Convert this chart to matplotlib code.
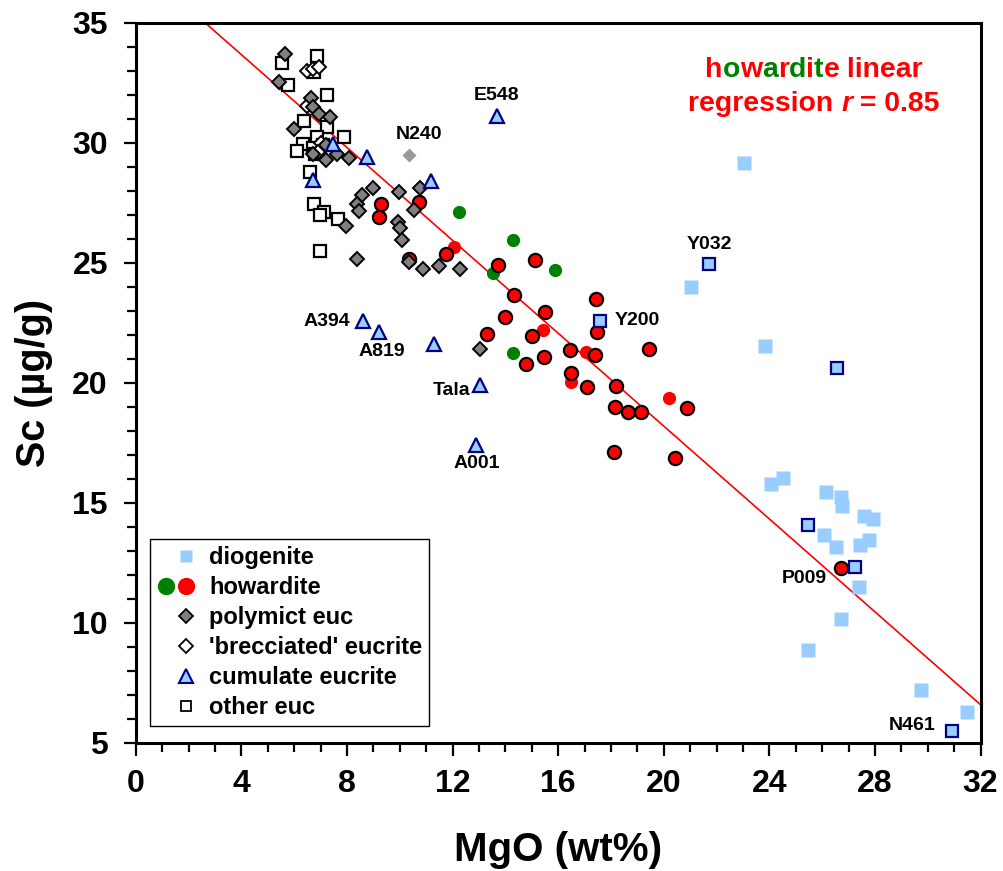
import matplotlib
matplotlib.use('Agg')
import matplotlib.pyplot as plt
from matplotlib.lines import Line2D
from matplotlib.legend_handler import HandlerBase
from matplotlib.offsetbox import TextArea, HPacker, VPacker, AnnotationBbox
from matplotlib.ticker import MultipleLocator

plt.rcParams['font.family'] = ['Liberation Sans', 'DejaVu Sans']
plt.rcParams['font.weight'] = 'bold'

# diogenites (plain squares) and the named / outlined ones
dio_mgo = [23.03, 21.04, 23.83, 24.05, 24.5, 26.16, 26.7, 26.77, 26.07, 26.52,
           27.6, 27.91, 27.45, 27.76, 27.38, 26.73, 25.45, 29.73, 31.48]
dio_sc = [29.15, 23.98, 21.53, 15.77, 16.02, 15.45, 15.25, 14.86, 13.68, 13.18,
          14.44, 14.31, 13.24, 13.45, 11.49, 10.16, 8.86, 7.2, 6.29]
dio2_mgo = [21.73, 17.57, 26.56, 25.45, 27.24, 30.91]
dio2_sc = [24.94, 22.58, 20.6, 14.06, 12.35, 5.48]

# howardites
how_mgo = [9.29, 9.22, 10.72, 10.34, 11.75, 13.72, 15.12, 14.34, 17.45, 15.51,
           14.0, 15.01, 13.3, 17.47, 16.46, 17.41, 19.43, 15.48, 14.79, 16.5,
           17.08, 18.18, 20.88, 18.14, 18.66, 19.13, 18.13, 20.41, 26.7]
how_sc = [27.44, 26.89, 27.55, 25.14, 25.37, 24.9, 25.11, 23.64, 23.5, 22.96,
          22.74, 21.95, 22.03, 22.13, 21.36, 21.15, 21.42, 21.09, 20.77, 20.42,
          19.83, 19.86, 18.95, 19.0, 18.77, 18.8, 17.1, 16.86, 12.27]
howr_mgo = [12.05, 15.43, 17.06, 16.5, 20.2]
howr_sc = [25.67, 22.2, 21.29, 20.02, 19.38]
howg_mgo = [12.23, 14.29, 15.9, 13.53, 14.29]
howg_sc = [27.13, 25.95, 24.68, 24.56, 21.25]

# eucrites
poly_mgo = [5.67, 5.44, 6.63, 6.7, 6.95, 7.37, 6.0, 7.21, 7.64, 8.06, 7.21, 6.73,
            8.98, 8.58, 8.38, 8.46, 9.96, 10.75, 10.55, 7.97, 9.93, 10.02, 10.08,
            8.38, 10.34, 10.9, 11.47, 12.29, 13.05]
poly_sc = [33.7, 32.52, 31.88, 31.47, 31.2, 31.06, 30.56, 29.9, 29.53, 29.35, 29.28,
           29.53, 28.1, 27.82, 27.47, 27.15, 27.93, 28.13, 27.22, 26.53, 26.71,
           26.43, 25.97, 25.14, 25.04, 24.73, 24.88, 24.73, 21.39]
brec_mgo = [6.5, 6.73, 6.96, 6.5, 7.0, 6.9]
brec_sc = [33.0, 33.06, 33.14, 31.53, 30.0, 29.6]
cum_mgo = [7.49, 8.76, 11.18, 6.73, 13.68, 8.59, 9.22, 11.31, 13.03, 12.9]
cum_sc = [29.95, 29.39, 28.4, 28.47, 31.11, 22.57, 22.1, 21.6, 19.89, 17.42]
oth_mgo = [6.88, 5.55, 6.75, 5.76, 7.23, 6.39, 7.24, 7.9, 6.86, 6.35, 6.1, 6.73,
           7.11, 6.8, 6.61, 6.76, 7.14, 6.99, 7.68, 6.99]
oth_sc = [33.63, 33.33, 32.95, 32.4, 32.0, 30.92, 30.64, 30.22, 30.25, 29.95, 29.67,
          29.77, 29.9, 29.55, 28.79, 27.45, 27.13, 26.99, 26.81, 25.49]
n240_mgo, n240_sc = 10.37, 29.5

# howardite regression
fit_slope = -0.967
fit_icept = 37.54

# named samples: (name, MgO, Sc, dx pt, dy pt, ha)
names = [('E548', 13.68, 31.11, 0, 15, 'center'),
         ('N240', 10.37, 29.5, 6.5, 14.5, 'center'),
         ('Y032', 21.73, 24.94, 0, 14.5, 'center'),
         ('Y200', 17.57, 22.58, 11, 0, 'left'),
         ('A394', 8.59, 22.57, -9, 0, 'right'),
         ('A819', 9.22, 22.1, 2, -13.5, 'center'),
         ('Tala', 13.03, 19.89, -7, -3.6, 'right'),
         ('A001', 12.9, 17.42, 0, -13.5, 'center'),
         ('P009', 27.24, 12.35, -20, -8.6, 'right'),
         ('N461', 30.91, 5.48, -11.5, 4.3, 'right')]

lblue = '#99CCFF'
navy = '#000080'

fig = plt.figure(figsize=(10.04, 8.71), dpi=100)
ax = fig.add_axes([0.1352, 0.147, 0.8414, 0.8269])

ax.plot(dio_mgo, dio_sc, 's', ms=9.8, mfc=lblue, mec='none', zorder=3)
ax.plot(howg_mgo, howg_sc, 'o', ms=9.5, mfc='green', mec='none', zorder=3)
ax.plot(howr_mgo, howr_sc, 'o', ms=9.5, mfc='red', mec='none', zorder=3)
ax.plot(how_mgo, how_sc, 'o', ms=9.5, mfc='red', mec='black', mew=1.6, zorder=4)
ax.plot(dio2_mgo, dio2_sc, 's', ms=9, mfc=lblue, mec=navy, mew=1.6, zorder=4)
ax.plot(oth_mgo, oth_sc, 's', ms=8.4, mfc='white', mec='black', mew=1.6, zorder=5)
ax.plot(brec_mgo, brec_sc, 'D', ms=7, mfc='white', mec='black', mew=1.4, zorder=5)
ax.plot(poly_mgo, poly_sc, 'D', ms=7, mfc='#808080', mec='black', mew=1.4, zorder=6)
ax.plot([n240_mgo], [n240_sc], 'D', ms=7, mfc='#999999', mec='none', zorder=6)
ax.plot(cum_mgo, cum_sc, '^', ms=10, mfc=lblue, mec=navy, mew=1.6, zorder=7)

xs = [0, 32]
ax.plot(xs, [fit_icept + fit_slope * x for x in xs], color='red', lw=1.2, zorder=2)

for nm, x, y, dx, dy, ha in names:
    ax.annotate(nm, (x, y), xytext=(dx, dy), textcoords='offset points',
                ha=ha, va='center', fontsize=14, fontweight='bold', zorder=8)

ax.set_xlim(0, 32)
ax.set_ylim(5, 35)
ax.xaxis.set_major_locator(MultipleLocator(4))
ax.xaxis.set_minor_locator(MultipleLocator(1))
ax.yaxis.set_major_locator(MultipleLocator(5))
ax.yaxis.set_minor_locator(MultipleLocator(1))
ax.tick_params(which='both', direction='out', width=1.6, top=False, right=False)
ax.tick_params(which='major', length=9, labelsize=23)
ax.tick_params(axis='x', which='major', pad=10)
ax.tick_params(axis='y', which='major', pad=11)
ax.tick_params(which='minor', length=6.5)
for s in ax.spines.values():
    s.set_linewidth(2.2)
for lab in ax.get_xticklabels() + ax.get_yticklabels():
    lab.set_fontweight('bold')

ax.set_xlabel('MgO (wt%)', fontsize=29, fontweight='bold', labelpad=23)
ax.set_ylabel('Sc (µg/g)', fontsize=28.5, fontweight='bold', labelpad=14)

# two-colour "howardite" heading
def piece(s, c, style='normal'):
    return TextArea(s, textprops=dict(color=c, fontsize=20.4, fontweight='bold',
                                      fontstyle=style))

word = 'howardite'
line1 = [piece(ch, 'red' if i % 2 == 0 else 'green') for i, ch in enumerate(word)]
line1.append(piece(' linear', 'red'))
line2 = [piece('regression ', 'red'), piece('r', 'red', 'italic'), piece(' = 0.85', 'red')]
head = VPacker(children=[HPacker(children=line1, sep=0, align='baseline'),
                         HPacker(children=line2, sep=0, align='baseline')],
               sep=6, align='center')
ab = AnnotationBbox(head, (0.803, 0.911), xycoords='axes fraction',
                    box_alignment=(0.5, 0.5), frameon=False)
ax.add_artist(ab)

# legend
class PairHandler(HandlerBase):
    def create_artists(self, legend, orig_handle, xdescent, ydescent,
                       width, height, fontsize, trans):
        x = width / 2 - xdescent
        y = height / 2 - ydescent
        g = Line2D([x - 13.7], [y], marker='o', ms=12.5, mfc='green', mec='none', ls='')
        r = Line2D([x], [y], marker='o', ms=12.5, mfc='red', mec='none', ls='')
        g.set_transform(trans)
        r.set_transform(trans)
        return [g, r]

pair = object()
handles = [
    Line2D([], [], marker='s', ms=9, mfc=lblue, mec='none', ls=''),
    pair,
    Line2D([], [], marker='D', ms=6.8, mfc='#808080', mec='black', mew=1.3, ls=''),
    Line2D([], [], marker='D', ms=6.8, mfc='white', mec='black', mew=1.3, ls=''),
    Line2D([], [], marker='^', ms=9.5, mfc=lblue, mec=navy, mew=1.5, ls=''),
    Line2D([], [], marker='s', ms=7.8, mfc='white', mec='black', mew=1.3, ls=''),
]
labels = ['diogenite', 'howardite', 'polymict euc', "'brecciated' eucrite",
          'cumulate eucrite', 'other euc']
leg = ax.legend(handles, labels, handler_map={pair: PairHandler()},
                loc='lower left', bbox_to_anchor=(0.017, 0.023), borderaxespad=0,
                fancybox=False, framealpha=1, edgecolor='black',
                prop=dict(size=17, weight='bold'), handlelength=2.4,
                handletextpad=-0.2, labelspacing=0.3, borderpad=0.3)
leg.get_frame().set_linewidth(1.0)
leg.set_zorder(10)

fig.savefig('out.png', dpi=100)
